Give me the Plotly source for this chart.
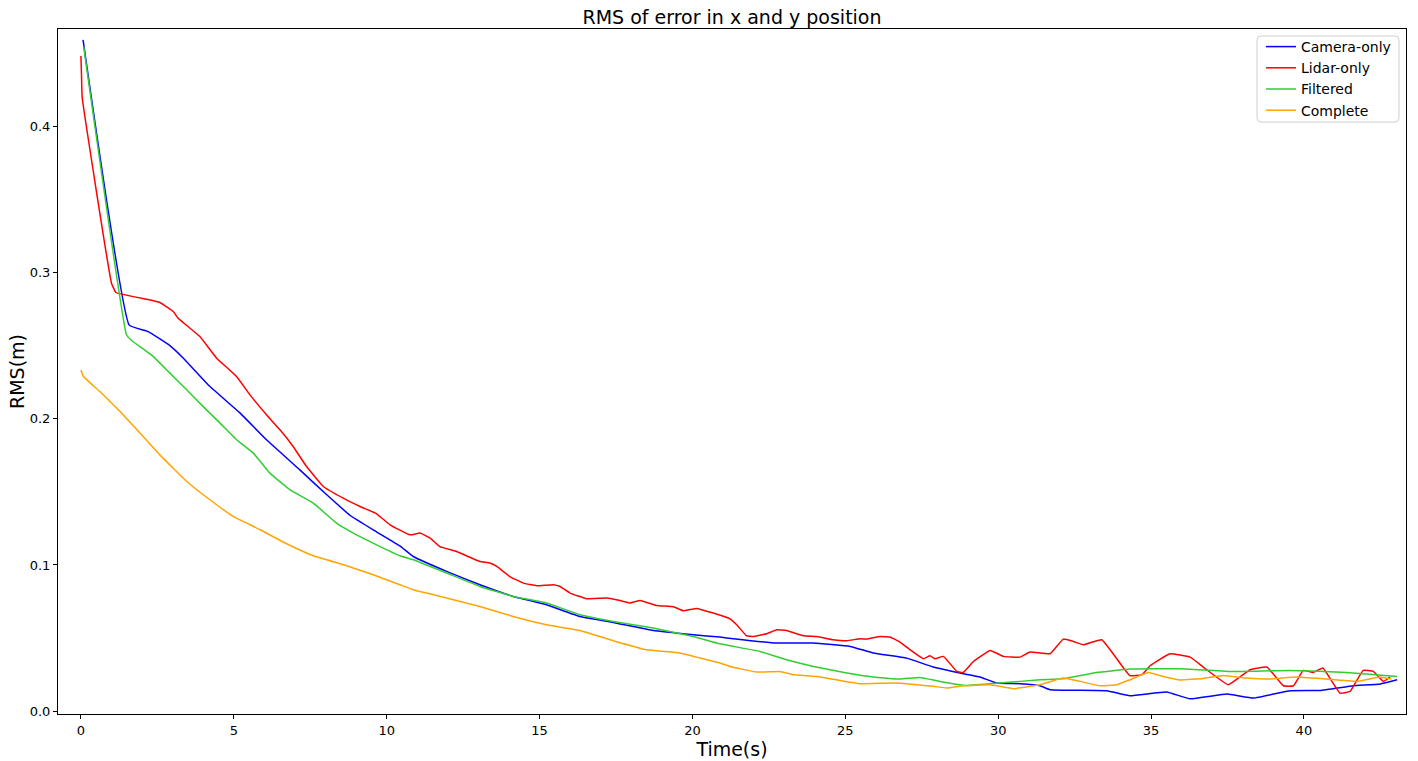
import plotly.graph_objects as go

# Camera-only RMS error
cam_t = [0.07, 1.58, 2.2, 2.91, 3.35, 4.22, 5.2, 6.07, 7.16, 8.04, 8.8, 9.56, 10.43,
         10.87, 11.96, 13.05, 14.14, 15.23, 16.32, 17.41, 18.72, 20.03, 20.9,
         21.34, 22.76, 23.96, 25.16, 25.92, 27.01, 27.88, 28.75, 29.41, 29.95, 30.72, 31.37,
         31.7, 33.55, 34.31, 35.51, 36.28, 37.48, 38.35, 39.55, 40.53, 41.62, 42.5, 43.05]
cam_v = [0.459, 0.264, 0.2596, 0.250, 0.2414, 0.222, 0.204, 0.1856, 0.165, 0.148, 0.134, 0.124, 0.1131,
         0.1058, 0.0956, 0.0865, 0.0785, 0.0728, 0.0648, 0.0607, 0.0552, 0.0523, 0.0507,
         0.0496, 0.0466, 0.0466, 0.0443, 0.0398, 0.0363, 0.0302, 0.0261, 0.0234, 0.0193, 0.0188, 0.0174,
         0.0147, 0.014, 0.0106, 0.0131, 0.0085, 0.0117, 0.009, 0.014, 0.0142, 0.0174, 0.0186, 0.0215]

# Lidar-only RMS error
lid_t = [0.0, 0.02, 0.04, 1.0, 1.145, 2.15, 2.58, 3.02, 3.18, 3.89, 4.44, 5.09, 5.53, 6.07, 6.51,
         6.94, 7.38, 7.93, 8.58, 9.13, 9.67, 10.11, 10.76, 11.09, 11.42, 11.74, 12.29, 13.05,
         13.38, 13.6, 14.03, 14.47, 14.91, 15.45, 15.67, 16.0, 16.54, 17.2, 17.63, 17.96, 18.29,
         18.83, 19.38, 19.7, 20.14, 20.68, 21.23, 21.45, 21.77, 21.99, 22.43, 22.76, 23.08,
         23.63, 24.07, 24.61, 25.05, 25.48, 25.7, 26.14, 26.46, 26.79, 27.12, 27.55, 27.77,
         27.94, 28.21, 28.65, 28.86, 29.19, 29.74, 30.17, 30.72, 31.04, 31.7, 32.13, 32.46,
         32.79, 33.39, 34.31, 34.7, 34.97, 35.62, 36.28, 36.82, 37.53, 38.24, 38.79, 39.33,
         39.66, 39.98, 40.31, 40.62, 41.18, 41.51, 41.94, 42.27, 42.6, 42.82]
lid_v = [0.448, 0.434, 0.420, 0.2927, 0.2863, 0.2817, 0.2795, 0.2733, 0.2687, 0.2562, 0.2414, 0.2289,
         0.2163, 0.2027, 0.1924, 0.181, 0.1673, 0.1537, 0.1457, 0.140, 0.135, 0.1275, 0.1206,
         0.1218, 0.1184, 0.1126, 0.1092, 0.1024, 0.1013, 0.099, 0.0921, 0.0876, 0.0858, 0.0865,
         0.0853, 0.0808, 0.0769, 0.0774, 0.0757, 0.074, 0.0757, 0.0723, 0.0714, 0.0687, 0.0703,
         0.0671, 0.0632, 0.0591, 0.0516, 0.0511, 0.053, 0.0557, 0.0552, 0.0516, 0.0511, 0.0489,
         0.0482, 0.0496, 0.0493, 0.0511, 0.0507, 0.0473, 0.042, 0.0359, 0.0379, 0.0359, 0.0375,
         0.0272, 0.0265, 0.034, 0.0416, 0.0375, 0.037, 0.0405, 0.0393, 0.0493, 0.0477, 0.0454,
         0.0489, 0.0243, 0.025, 0.0311, 0.0393, 0.037, 0.0284, 0.0181, 0.0284, 0.0302, 0.0174,
         0.0174, 0.0279, 0.0265, 0.0295, 0.0124, 0.0135, 0.0279, 0.0272, 0.0204, 0.0234]

# Filtered RMS error
fil_t = [0.09, 1.49, 1.66, 2.37, 2.91, 3.46, 4.0, 4.55, 5.09, 5.64, 6.18, 6.84, 7.6, 8.36, 8.91,
         9.67, 10.43, 10.87, 11.96, 13.05, 14.14, 15.23, 16.32, 17.41, 18.72, 20.03, 20.9,
         22.21, 23.08, 23.96, 25.05, 25.92, 26.79, 27.44, 28.1, 28.97, 30.06, 31.37, 32.13,
         33.22, 34.31, 35.95, 37.59, 39.55, 41.4, 43.05]
fil_v = [0.4544, 0.2574, 0.2535, 0.2425, 0.2312, 0.2198, 0.2083, 0.197, 0.1856, 0.1765, 0.1628,
         0.1514, 0.1423, 0.1286, 0.1218, 0.1138, 0.1063, 0.1036, 0.0945, 0.0853, 0.0785, 0.074,
         0.066, 0.0614, 0.0569, 0.0511, 0.0461, 0.0409, 0.0352, 0.0306, 0.0261, 0.0234, 0.022,
         0.0231, 0.0204, 0.0176, 0.0193, 0.0215, 0.0222, 0.0265, 0.0288, 0.029, 0.0272, 0.0279,
         0.0265, 0.0238]

# Complete RMS error
com_t = [0.0, 0.08, 0.62, 1.28, 1.93, 2.58, 3.46, 4.22, 4.98, 5.86, 6.73, 7.6, 8.69, 9.56, 10.43,
         10.87, 11.96, 13.05, 14.14, 15.23, 16.32, 17.41, 18.5, 19.59, 20.25, 20.9, 21.23, 22.1,
         22.86, 23.3, 24.07, 25.48, 26.57, 27.88, 28.32, 28.86, 29.74, 30.5, 31.04, 31.37,
         32.13, 32.68, 33.33, 33.88, 34.31, 34.91, 35.4, 35.95, 36.71, 37.36, 38.13, 38.89,
         39.76, 40.63, 41.72, 42.48, 42.86]
com_v = [0.2334, 0.2289, 0.2186, 0.2049, 0.1902, 0.1753, 0.1571, 0.1446, 0.1332, 0.1241, 0.1145,
         0.1063, 0.0995, 0.0933, 0.0865, 0.083, 0.0774, 0.0716, 0.0648, 0.0591, 0.0552, 0.0482,
         0.042, 0.0398, 0.0364, 0.033, 0.0306, 0.0268, 0.0272, 0.0249, 0.0238, 0.0188, 0.0193,
         0.017, 0.0159, 0.0174, 0.0181, 0.0154, 0.017, 0.0181, 0.0227, 0.0204, 0.0174, 0.0181,
         0.0215, 0.0265, 0.0238, 0.0214, 0.0224, 0.0245, 0.0227, 0.022, 0.0234, 0.0222, 0.0204,
         0.0234, 0.022]

series = [
    ("Camera-only", cam_t, cam_v, "#0000ff"),
    ("Lidar-only", lid_t, lid_v, "#ff0000"),
    ("Filtered", fil_t, fil_v, "#32cd32"),
    ("Complete", com_t, com_v, "#ffa500"),
]

FONT = "DejaVu Sans"
W, H = 1418, 761
ML, MR, MT, MB = 58, 12, 29, 47
PW, PH = W - ML - MR, H - MT - MB


def px_x(px):
    return (px - ML) / PW


def px_y(py):
    return (H - MB - py) / PH


fig = go.Figure()
for name, t, v, color in series:
    fig.add_trace(go.Scatter(
        x=t, y=v, mode="lines", name=name,
        line=dict(color=color, width=1.5, shape="spline", smoothing=0.3),
    ))

axis_common = dict(
    showgrid=False, zeroline=False, automargin=False,
    showline=True, linecolor="black", linewidth=1, mirror=True,
    ticks="outside", ticklen=4, tickwidth=1, tickcolor="black",
    tickfont=dict(family=FONT, size=13, color="black"),
)

# legend frame with rounded corners
x0, x1, y0, y1, r = px_x(1257), px_x(1399), px_y(122), px_y(36), 4
rx, ry = r / PW, r / PH
frame_path = (f"M {x0 + rx},{y0} L {x1 - rx},{y0} Q {x1},{y0} {x1},{y0 + ry} "
              f"L {x1},{y1 - ry} Q {x1},{y1} {x1 - rx},{y1} L {x0 + rx},{y1} "
              f"Q {x0},{y1} {x0},{y1 - ry} L {x0},{y0 + ry} Q {x0},{y0} {x0 + rx},{y0} Z")

fig.update_layout(
    width=W, height=H,
    margin=dict(l=ML, r=MR, t=MT, b=MB),
    paper_bgcolor="white", plot_bgcolor="white",
    font=dict(family=FONT, color="black"),
    title=dict(text="RMS of error in x and y position", x=0.5, xref="paper", xanchor="center",
               y=1 - 17 / H, yanchor="middle",
               font=dict(family=FONT, size=19, color="black")),
    xaxis=dict(range=[-0.75, 43.34], tickvals=[0, 5, 10, 15, 20, 25, 30, 35, 40],
               title=dict(text="Time(s)", font=dict(family=FONT, size=19), standoff=2),
               **axis_common),
    yaxis=dict(range=[-0.0019, 0.4665], tickvals=[0.0, 0.1, 0.2, 0.3, 0.4], tickformat=".1f",
               title=dict(text="RMS(m)", font=dict(family=FONT, size=19), standoff=0),
               **axis_common),
    shapes=[dict(type="path", xref="paper", yref="paper", path=frame_path,
                 line=dict(color="#d0d0d0", width=1), fillcolor="rgba(255,255,255,0.8)",
                 layer="above")],
    legend=dict(x=px_x(1261), y=px_y(31), xanchor="left", yanchor="top",
                bgcolor="rgba(0,0,0,0)", borderwidth=0,
                font=dict(family=FONT, size=14, color="black"),
                itemwidth=30, tracegroupgap=0),
    showlegend=True,
)

fig.write_html("out.html")
